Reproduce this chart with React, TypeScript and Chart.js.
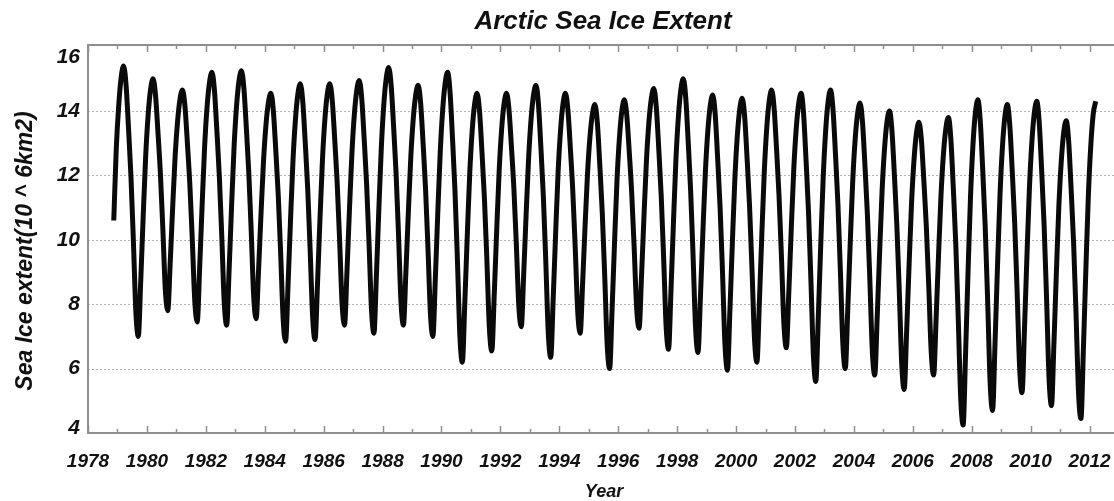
import React, { useEffect, useRef } from "react";
import { Chart, registerables } from "chart.js";

Chart.register(...registerables);

// Monthly (mid-month) Arctic sea ice extent, 10^6 km2.
// First row begins in November 1978; every other row begins in January.
const dataYears = [
  1978, 1979, 1980, 1981, 1982, 1983, 1984, 1985, 1986, 1987, 1988, 1989,
  1990, 1991, 1992, 1993, 1994, 1995, 1996, 1997, 1998, 1999, 2000, 2001,
  2002, 2003, 2004, 2005, 2006, 2007, 2008, 2009, 2010, 2011, 2012,
];
const firstMonthOf1978 = 10; // November

const extentRows: number[][] = [
  [10.6, 12.8],
  [14.15, 15.04, 15.4, 14.81, 13.47, 11.96, 9.94, 7.76, 7.0, 8.76, 10.76, 12.6],
  [13.88, 14.68, 15.0, 14.5, 13.34, 12.05, 10.32, 8.45, 7.8, 9.31, 11.02, 12.6],
  [13.69, 14.38, 14.65, 14.15, 12.99, 11.7, 9.97, 8.1, 7.45, 9.16, 11.09, 12.88],
  [14.12, 14.89, 15.2, 14.65, 13.39, 11.98, 10.1, 8.06, 7.35, 9.09, 11.06, 12.88],
  [14.14, 14.93, 15.25, 14.71, 13.48, 12.09, 10.25, 8.24, 7.55, 9.09, 10.84, 12.45],
  [13.57, 14.27, 14.55, 14.01, 12.78, 11.39, 9.55, 7.54, 6.85, 8.61, 10.61, 12.45],
  [13.73, 14.53, 14.85, 14.29, 13.02, 11.59, 9.68, 7.62, 6.9, 8.65, 10.64, 12.47],
  [13.74, 14.53, 14.85, 14.33, 13.13, 11.78, 9.98, 8.03, 7.35, 9.02, 10.92, 12.67],
  [13.89, 14.65, 14.95, 14.4, 13.14, 11.73, 9.85, 7.81, 7.1, 8.92, 10.98, 12.88],
  [14.2, 15.02, 15.35, 14.79, 13.51, 12.07, 10.15, 8.07, 7.35, 8.99, 10.85, 12.57],
  [13.76, 14.5, 14.8, 14.25, 13.01, 11.6, 9.73, 7.7, 7.0, 8.8, 10.85, 12.74],
  [14.05, 14.87, 15.2, 14.57, 13.13, 11.51, 9.35, 7.01, 6.2, 8.04, 10.12, 12.05],
  [13.38, 14.22, 14.55, 13.99, 12.71, 11.27, 9.35, 7.27, 6.55, 8.31, 10.31, 12.15],
  [13.43, 14.23, 14.55, 14.04, 12.88, 11.58, 9.84, 7.95, 7.3, 8.95, 10.83, 12.55],
  [13.75, 14.5, 14.8, 14.21, 12.86, 11.34, 9.31, 7.11, 6.35, 8.15, 10.2, 12.09],
  [13.4, 14.22, 14.55, 14.03, 12.84, 11.5, 9.71, 7.77, 7.1, 8.66, 10.44, 12.07],
  [13.21, 13.92, 14.2, 13.63, 12.31, 10.84, 8.87, 6.74, 6.0, 7.84, 9.92, 11.85],
  [13.18, 14.02, 14.35, 13.85, 12.72, 11.44, 9.74, 7.89, 7.25, 8.89, 10.75, 12.47],
  [13.66, 14.4, 14.7, 14.13, 12.84, 11.38, 9.44, 7.33, 6.6, 8.45, 10.55, 12.48],
  [13.82, 14.66, 15.0, 14.41, 13.05, 11.52, 9.48, 7.27, 6.5, 8.26, 10.26, 12.1],
  [13.38, 14.18, 14.5, 13.9, 12.53, 10.99, 8.94, 6.72, 5.95, 7.81, 9.92, 11.87],
  [13.22, 14.06, 14.4, 13.83, 12.51, 11.04, 9.07, 6.94, 6.2, 8.06, 10.17, 12.12],
  [13.47, 14.31, 14.65, 14.09, 12.81, 11.37, 9.45, 7.37, 6.65, 8.39, 10.36, 12.18],
  [13.44, 14.23, 14.55, 13.92, 12.49, 10.88, 8.73, 6.41, 5.6, 7.59, 9.85, 11.94],
  [13.38, 14.29, 14.65, 14.04, 12.66, 11.1, 9.03, 6.78, 6.0, 7.82, 9.88, 11.78],
  [13.1, 13.92, 14.25, 13.66, 12.31, 10.79, 8.76, 6.56, 5.8, 7.6, 9.65, 11.54],
  [12.85, 13.67, 14.0, 13.39, 12.01, 10.45, 8.38, 6.13, 5.35, 7.18, 9.25, 11.16],
  [12.49, 13.32, 13.65, 13.1, 11.84, 10.43, 8.55, 6.51, 5.8, 7.56, 9.56, 11.4],
  [12.68, 13.48, 13.8, 13.13, 11.6, 9.88, 7.59, 5.11, 4.25, 6.47, 9.0, 11.32],
  [12.94, 13.95, 14.35, 13.67, 12.13, 10.39, 8.08, 5.57, 4.7, 6.79, 9.17, 11.35],
  [12.87, 13.82, 14.2, 13.57, 12.14, 10.53, 8.38, 6.06, 5.25, 7.24, 9.5, 11.59],
  [13.03, 13.94, 14.3, 13.64, 12.13, 10.43, 8.16, 5.7, 4.85, 6.8, 9.01, 11.05],
  [12.46, 13.35, 13.7, 13.05, 11.57, 9.91, 7.69, 5.28, 4.45, 6.62, 9.08, 11.35],
  [12.92, 13.91, 14.3],
];

const xTickYears = [
  1978, 1979, 1980, 1981, 1982, 1983, 1984, 1985, 1986, 1987, 1988, 1989,
  1990, 1991, 1992, 1993, 1994, 1995, 1996, 1997, 1998, 1999, 2000, 2001,
  2002, 2003, 2004, 2005, 2006, 2007, 2008, 2009, 2010, 2011, 2012,
];
const xLabelYears = [
  1978, 1980, 1982, 1984, 1986, 1988, 1990, 1992, 1994, 1996, 1998, 2000,
  2002, 2004, 2006, 2008, 2010, 2012,
];
const yTicks = [4, 6, 8, 10, 12, 14, 16];

const chartTitle = "Arctic Sea Ice Extent";
const yTitle = "Sea Ice extent(10 ^ 6km2)";
const xTitle = "Year";

const FONT = "'Liberation Sans', Arial, Helvetica, sans-serif";

function buildPoints() {
  const pts: { x: number; y: number }[] = [];
  dataYears.forEach((yr, i) => {
    const row = extentRows[i];
    const m0 = yr === 1978 ? firstMonthOf1978 : 0;
    row.forEach((v, j) => {
      pts.push({ x: yr + (m0 + j + 0.5) / 12, y: v });
    });
  });
  return pts;
}

const framePlugin = {
  id: "frame",
  beforeDatasetsDraw(chart: any) {
    const { ctx, chartArea, scales } = chart;
    const y = scales.y;
    ctx.save();
    ctx.strokeStyle = "#b4b4b4";
    ctx.lineWidth = 1;
    ctx.setLineDash([2, 2]);
    yTicks.forEach((v) => {
      if (v <= 4 || v >= 16) return;
      const py = Math.round(y.getPixelForValue(v)) + 0.5;
      ctx.beginPath();
      ctx.moveTo(chartArea.left, py);
      ctx.lineTo(chartArea.right, py);
      ctx.stroke();
    });
    ctx.restore();
  },
  afterDatasetsDraw(chart: any) {
    const { ctx, chartArea, scales } = chart;
    const x = scales.x;
    const y = scales.y;
    const { left, right, top, bottom } = chartArea;
    ctx.save();
    // frame
    ctx.strokeStyle = "#8f8f8f";
    ctx.lineWidth = 2;
    ctx.setLineDash([]);
    ctx.beginPath();
    ctx.moveTo(right, top);
    ctx.lineTo(left, top);
    ctx.lineTo(left, bottom);
    ctx.lineTo(right, bottom);
    ctx.stroke();
    // x ticks (top and bottom, inward)
    ctx.lineWidth = 1.5;
    xTickYears.forEach((yr) => {
      const px = Math.round(x.getPixelForValue(yr)) + 0.5;
      const major = yr % 2 === 0;
      const len = major ? 7 : 4;
      ctx.beginPath();
      ctx.moveTo(px, bottom);
      ctx.lineTo(px, bottom - len);
      ctx.moveTo(px, top);
      ctx.lineTo(px, top + len);
      ctx.stroke();
    });
    // x labels
    ctx.fillStyle = "#111";
    ctx.font = `italic bold 19px ${FONT}`;
    ctx.textAlign = "center";
    ctx.textBaseline = "middle";
    xLabelYears.forEach((yr) => {
      ctx.fillText(String(yr), x.getPixelForValue(yr), 462);
    });
    // y labels
    ctx.font = `italic bold 21px ${FONT}`;
    ctx.textAlign = "right";
    yTicks.forEach((v) => {
      let py = y.getPixelForValue(v);
      if (v === 16) py += 11;
      if (v === 4) py -= 5;
      ctx.fillText(String(v), 80, py);
    });
    // titles
    ctx.textAlign = "center";
    ctx.font = `italic bold 26px ${FONT}`;
    ctx.fillText(chartTitle, (left + right) / 2 + 2, 22);
    ctx.font = `italic bold 18px ${FONT}`;
    ctx.fillText(xTitle, 604, 492);
    ctx.save();
    ctx.translate(26, 251);
    ctx.rotate(-Math.PI / 2);
    ctx.font = `italic bold 23px ${FONT}`;
    ctx.fillText(yTitle, 0, 0);
    ctx.restore();
    ctx.restore();
  },
};

export default function App() {
  const canvasRef = useRef<HTMLCanvasElement | null>(null);

  useEffect(() => {
    const canvas = canvasRef.current;
    if (!canvas) return;
    const chart = new Chart(canvas, {
      type: "line",
      data: {
        datasets: [
          {
            data: buildPoints(),
            borderColor: "#0a0a0a",
            borderWidth: 5,
            pointRadius: 0,
            fill: false,
            cubicInterpolationMode: "monotone",
          },
        ],
      },
      options: {
        animation: false,
        responsive: false,
        devicePixelRatio: 1,
        layout: { padding: { left: 88, top: 45, right: 0, bottom: 68 } },
        scales: {
          x: { type: "linear", min: 1978, max: 2012.83, display: false },
          y: { type: "linear", min: 4, max: 16.05, display: false },
        },
        plugins: {
          legend: { display: false },
          tooltip: { enabled: false },
          title: { display: false },
        },
      },
      plugins: [framePlugin],
    } as any);
    return () => chart.destroy();
  }, []);

  return (
    <div
      style={{
        position: "fixed",
        left: 0,
        top: 0,
        width: 1114,
        height: 501,
        background: "#fff",
      }}
    >
      <canvas ref={canvasRef} width={1114} height={501} style={{ display: "block" }} />
    </div>
  );
}
